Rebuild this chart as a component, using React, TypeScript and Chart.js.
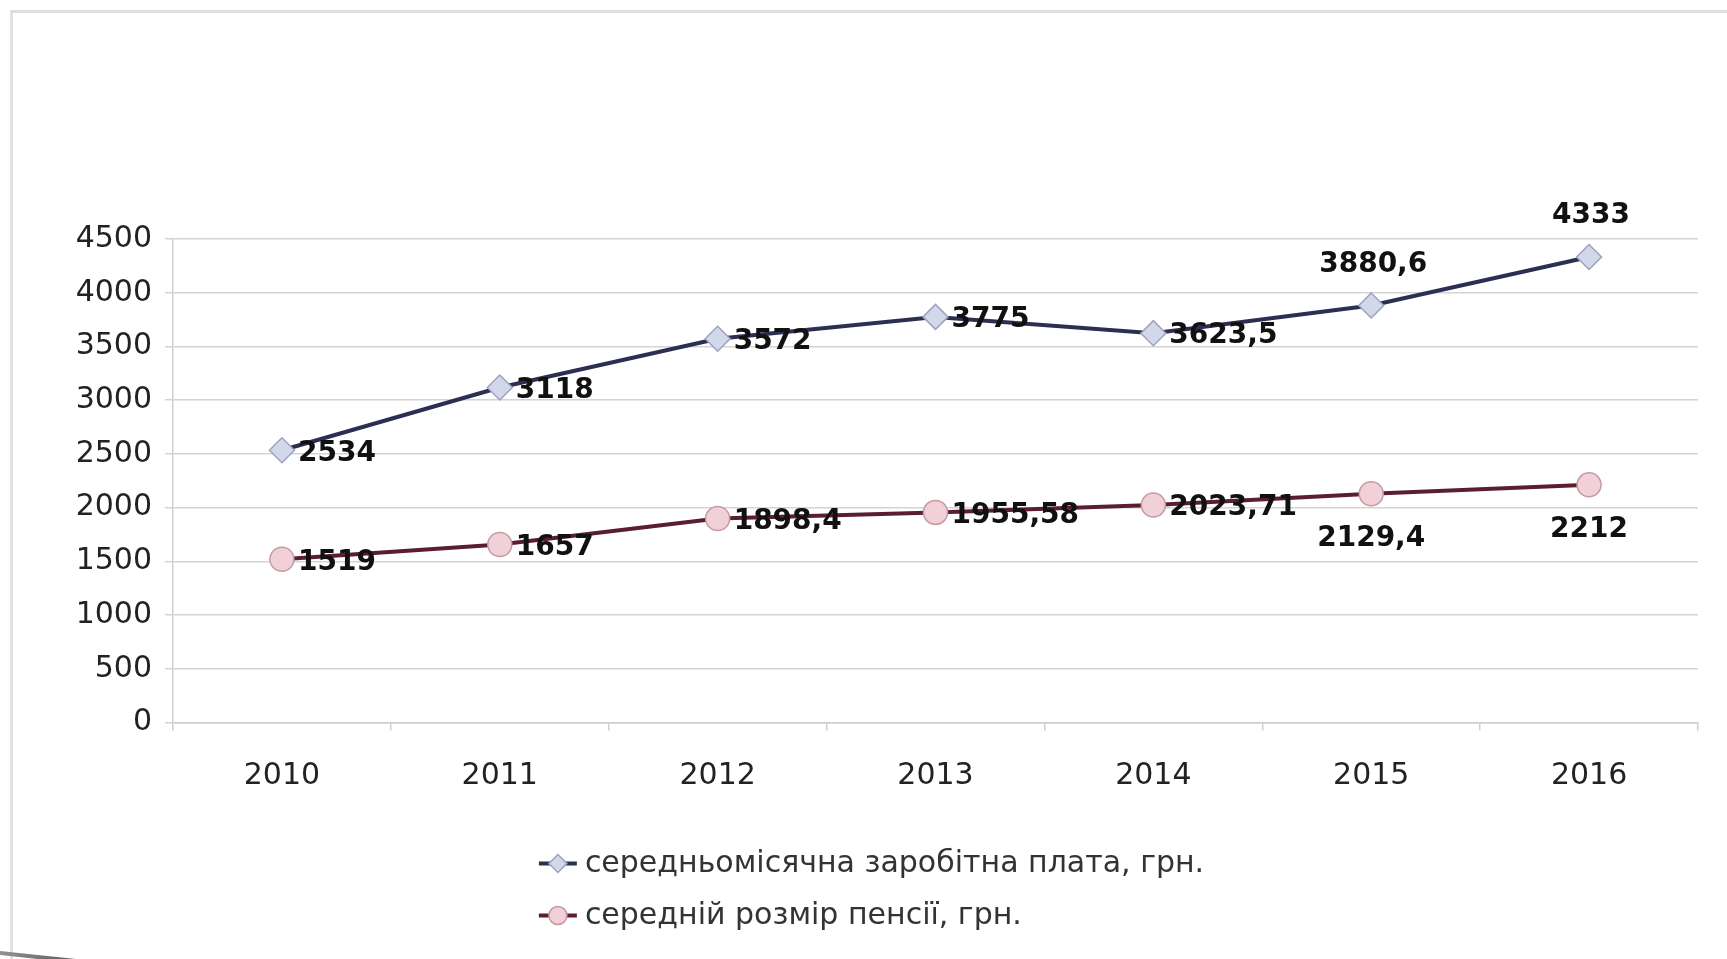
import React, { useEffect, useRef } from "react";
import { Chart, registerables } from "chart.js";

Chart.register(...registerables);

const years = ["2010", "2011", "2012", "2013", "2014", "2015", "2016"];
const wageValues = [2534, 3118, 3572, 3775, 3623.5, 3880.6, 4333];
const pensionValues = [1519, 1657, 1898.4, 1955.58, 2023.71, 2129.4, 2212];
const seriesNames = [
  "середньомісячна заробітна плата, грн.",
  "середній розмір пенсії, грн.",
];
const wageLabelSide = ["right", "right", "right", "right", "right", "top", "top"];
const pensionLabelSide = ["right", "right", "right", "right", "right", "bottom", "bottom"];
const yMin = 0;
const yMax = 4500;
const yStep = 500;

const FONT = "'DejaVu Sans', 'Noto Sans', sans-serif";

const formatValue = (v: number) => String(v).replace(".", ",");

const seriesStyles = [
  { line: "#2c2f52", fill: "#d3d7ea", border: "#9da2bf", point: "rectRot", radius: 12.5 },
  { line: "#5a1e2e", fill: "#f1d0d8", border: "#c49aa6", point: "circle", radius: 12 },
];

const labelSides = [wageLabelSide, pensionLabelSide];

const dataLabelPlugin = {
  id: "dataLabelPlugin",
  afterDatasetsDraw(chart: any) {
    const ctx = chart.ctx;
    ctx.save();
    ctx.font = `bold 28px ${FONT}`;
    ctx.fillStyle = "#111";
    chart.data.datasets.forEach((ds: any, di: number) => {
      const meta = chart.getDatasetMeta(di);
      meta.data.forEach((pt: any, i: number) => {
        const text = formatValue(ds.data[i]);
        const side = labelSides[di][i];
        if (side === "right") {
          ctx.textAlign = "left";
          ctx.textBaseline = "middle";
          ctx.fillText(text, pt.x + 16, pt.y + 3);
        } else if (side === "top") {
          ctx.textAlign = "center";
          ctx.textBaseline = "middle";
          ctx.fillText(text, pt.x + 2, pt.y - 41);
        } else {
          ctx.textAlign = "center";
          ctx.textBaseline = "middle";
          ctx.fillText(text, pt.x, pt.y + 45);
        }
      });
    });
    ctx.restore();
  },
};

const legendPlugin = {
  id: "customLegend",
  afterDraw(chart: any) {
    const ctx = chart.ctx;
    ctx.save();
    ctx.font = `30px ${FONT}`;
    const widths = seriesNames.map((n) => ctx.measureText(n).width);
    const blockW = 46 + Math.max(...widths);
    const startX = chart.width / 2 - blockW / 2 + 8;
    const baseY = chart.chartArea.bottom + 141;
    chart.data.datasets.forEach((ds: any, i: number) => {
      const st = seriesStyles[i];
      const y = baseY + i * 52;
      ctx.strokeStyle = st.line;
      ctx.lineWidth = 4;
      ctx.beginPath();
      ctx.moveTo(startX, y);
      ctx.lineTo(startX + 38, y);
      ctx.stroke();
      ctx.fillStyle = st.fill;
      ctx.strokeStyle = st.border;
      ctx.lineWidth = 1.5;
      const cx = startX + 19;
      const r = 9;
      ctx.beginPath();
      if (st.point === "circle") {
        ctx.arc(cx, y, r, 0, Math.PI * 2);
      } else {
        ctx.moveTo(cx, y - r);
        ctx.lineTo(cx + r, y);
        ctx.lineTo(cx, y + r);
        ctx.lineTo(cx - r, y);
        ctx.closePath();
      }
      ctx.fill();
      ctx.stroke();
      ctx.fillStyle = "#333";
      ctx.textAlign = "left";
      ctx.textBaseline = "middle";
      ctx.fillText(seriesNames[i], startX + 46, y + 1);
    });
    ctx.restore();
  },
};

export default function App() {
  const canvasRef = useRef<HTMLCanvasElement | null>(null);

  useEffect(() => {
    if (!canvasRef.current) return;
    const chart = new Chart(canvasRef.current, {
      type: "line",
      data: {
        labels: years,
        datasets: [wageValues, pensionValues].map((vals, i) => ({
          label: seriesNames[i],
          data: vals,
          borderColor: seriesStyles[i].line,
          borderWidth: 4,
          pointStyle: seriesStyles[i].point as any,
          pointRadius: seriesStyles[i].radius,
          pointBackgroundColor: seriesStyles[i].fill,
          pointBorderColor: seriesStyles[i].border,
          pointBorderWidth: 1.5,
          tension: 0,
          fill: false,
        })),
      },
      options: {
        animation: false,
        responsive: false,
        maintainAspectRatio: false,
        layout: { padding: { left: 0, right: 29, top: 239, bottom: 156.5 } },
        plugins: {
          legend: { display: false },
          tooltip: { enabled: false },
          title: { display: false },
        },
        scales: {
          x: {
            offset: true,
            grid: {
              offset: true,
              drawOnChartArea: false,
              drawTicks: true,
              tickLength: 8,
              color: "#cfcfcf",
              lineWidth: 1.5,
            },
            border: { color: "#cfcfcf", width: 1.5 },
            ticks: {
              color: "#222",
              font: { family: FONT, size: 30 },
              padding: 28,
              maxRotation: 0,
            },
            afterFit: (scale: any) => {
              scale.height = 80;
            },
          },
          y: {
            min: yMin,
            max: yMax,
            ticks: {
              stepSize: yStep,
              color: "#222",
              font: { family: FONT, size: 30 },
              padding: 13,
              callback: (v: any) => String(v),
            },
            grid: {
              color: "#d4d4d4",
              lineWidth: 1.5,
              drawTicks: true,
              tickLength: 8,
            },
            border: { color: "#cfcfcf", width: 1.5 },
            afterFit: (scale: any) => {
              scale.width = 173;
            },
          },
        },
      },
      plugins: [dataLabelPlugin, legendPlugin],
    });
    return () => chart.destroy();
  }, []);

  return (
    <div style={{ position: "absolute", left: 0, top: 0, width: 1727, height: 959, background: "#fff", overflow: "hidden" }}>
      <div
        style={{
          position: "absolute",
          left: 10,
          top: 10,
          width: 1717,
          height: 949,
          borderTop: "3px solid #dedede",
          borderLeft: "3px solid #e2e2e2",
          boxSizing: "border-box",
        }}
      />
      <div
        style={{
          position: "absolute",
          left: -10,
          top: 950,
          width: 160,
          height: 4,
          background: "linear-gradient(to right, #9a9a9a, #555 60%, rgba(80,80,80,0))",
          transform: "rotate(6deg)",
          transformOrigin: "left center",
        }}
      />
      <canvas ref={canvasRef} width={1727} height={959} style={{ position: "absolute", left: 0, top: 0 }} />
    </div>
  );
}
